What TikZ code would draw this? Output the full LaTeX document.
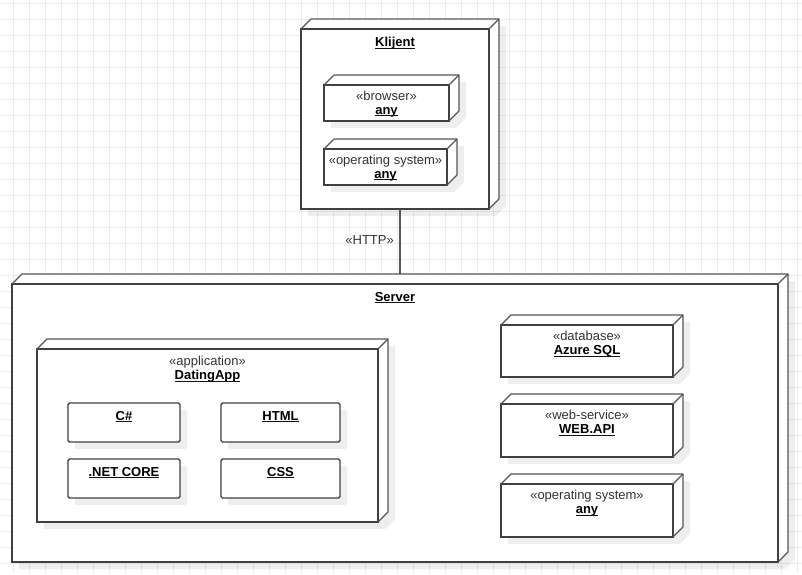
\documentclass[tikz,border=0pt]{standalone}
\usepackage{fontspec}
\setmainfont{Liberation Sans}
\usetikzlibrary{calc}
\definecolor{lc}{HTML}{404040}
\definecolor{bc}{HTML}{555555}
\definecolor{gridc}{HTML}{EBEBEB}
\definecolor{stc}{HTML}{333333}
\definecolor{nmc}{HTML}{111111}
\newsavebox\nmbox
\newcommand{\nm}[1]{\sbox\nmbox{\bfseries #1}{\color{nmc}\usebox\nmbox\llap{\rule[-2.3pt]{\wd\nmbox}{0.9pt}}}}
\tikzset{
  front/.style={draw=lc, line width=1.5pt, fill=white, rectangle, inner sep=0pt, outer sep=0pt},
  backline/.style={draw=bc, line width=1.1pt, line join=round},
  shadowfill/.style={fill=black, fill opacity=0.065},
  inbox/.style={draw=lc, line width=1.4pt, fill=white, rectangle, rounded corners=1.5pt, inner sep=0pt, outer sep=0pt},
  stereo/.style={text=stc, inner sep=0pt, anchor=base},
  nametxt/.style={inner sep=0pt, anchor=base},
  conn/.style={draw=bc, line width=1.1pt},
  every node/.style={font=\fontsize{13}{15}\selectfont}
}
% 3D node: name, x1, y1, x2, y2 (front face)
\newcommand{\cubenode}[5]{%
  \fill[shadowfill] ({#2+7},{#5+7}) -- ({#2+7},{#3+7}) -- ({#2+17},{#3-3}) -- ({#4+17},{#3-3}) -- ({#4+17},{#5-3}) -- ({#4+7},{#5+7}) -- cycle;
  \fill[white] (#2,#5) -- (#2,#3) -- ({#2+10},{#3-10}) -- ({#4+10},{#3-10}) -- ({#4+10},{#5-10}) -- (#4,#5) -- cycle;
  \node[front, anchor=north west, minimum width={#4-#2}, minimum height={#5-#3}] (#1) at (#2,#3) {};
  \draw[backline] (#1.north west) -- ++(10,-10) -- ++({#4-#2},0) -- ++(0,{#5-#3}) -- (#1.south east);
  \draw[backline] (#1.north east) -- ++(10,-10);
}
% plain box: name, x1, y1, x2, y2, text
\newcommand{\plainbox}[6]{%
  \fill[shadowfill, rounded corners=1.5pt] ({#2+7},{#3+7}) rectangle ({#4+7},{#5+7});
  \node[inbox, anchor=north west, minimum width={#4-#2}, minimum height={#5-#3}] (#1) at (#2,#3) {};
  \node[nametxt] (#1-t) at ({(#2+#4)/2},{#3+17}) {\nm{#6}};
}
\begin{document}
\begin{tikzpicture}[x=1pt, y=-1pt]
\useasboundingbox (0,0) rectangle (802,574);
\fill[white] (0,0) rectangle (802,574);
% grid
\foreach \i in {0,...,49} {\draw[gridc, line width=1pt] ({13.3+16*\i},0) -- ({13.3+16*\i},574);}
\foreach \j in {0,...,35} {\draw[gridc, line width=1pt] (0,{3.3+16*\j}) -- (802,{3.3+16*\j});}

% Client
\cubenode{klijent}{301}{29}{489}{209}
\node[nametxt] (klijent-t) at (395,46.5) {\nm{Klijent}};
\cubenode{browser}{324}{85}{449}{121}
\node[stereo] (browser-s) at (386.5,100.5) {«browser»};
\node[nametxt] (browser-t) at (386.5,114) {\nm{any}};
\cubenode{cos}{324}{149}{447}{185}
\node[stereo] (cos-s) at (385.5,164.5) {«operating system»};
\node[nametxt] (cos-t) at (385.5,178) {\nm{any}};

% Server
\cubenode{server}{12}{284}{778}{562}
\node[nametxt] (server-t) at (395,301) {\nm{Server}};

\cubenode{app}{37}{349}{378}{522}
\node[stereo] (app-s) at (207.5,365) {«application»};
\node[nametxt] (app-t) at (207.5,379.5) {\nm{DatingApp}};
\plainbox{cs}{68}{403}{180}{442}{C\#}
\plainbox{html}{221}{403}{340}{442}{HTML}
\plainbox{net}{68}{459}{180}{498}{.NET CORE}
\plainbox{css}{221}{459}{340}{498}{CSS}

\cubenode{db}{501}{325}{673}{377}
\node[stereo] (db-s) at (587,340.5) {«database»};
\node[nametxt] (db-t) at (587,354.5) {\nm{Azure SQL}};
\cubenode{ws}{501}{404}{673}{457}
\node[stereo] (ws-s) at (587,419.5) {«web-service»};
\node[nametxt] (ws-t) at (587,433.5) {\nm{WEB.API}};
\cubenode{sos}{501}{484}{673}{537}
\node[stereo] (sos-s) at (587,499.5) {«operating system»};
\node[nametxt] (sos-t) at (587,513.5) {\nm{any}};

% connector
\coordinate (hx) at (400,0);
\draw[conn] (klijent.south -| hx) -- ($(server.north -| hx)+(0,-10)$);
\node[stereo, anchor=base east] (http) at (394,244.5) {«HTTP»};
\end{tikzpicture}
\end{document}
